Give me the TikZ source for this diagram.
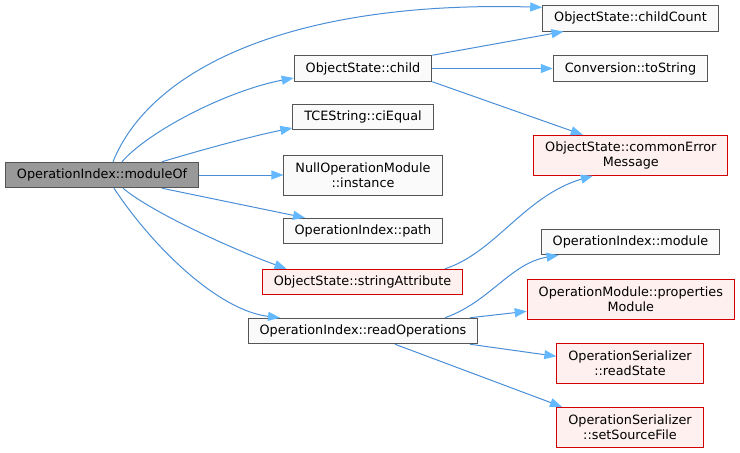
\documentclass[tikz,border=0pt]{standalone}
\usepackage{fontspec}
\setmainfont{DejaVu Sans}
\usetikzlibrary{arrows.meta,positioning}

\definecolor{edgeblue}{HTML}{4A8FD6}
\definecolor{tipblue}{HTML}{63B8FF}
\definecolor{boxgray}{HTML}{555555}
\definecolor{rootfill}{HTML}{999999}
\definecolor{fnfill}{HTML}{F9FAF9}
\definecolor{errred}{HTML}{D40000}
\definecolor{errfill}{HTML}{FFF0F0}

\begin{document}
\begin{tikzpicture}[x=1pt,y=-1pt,
    fnbox/.style={draw=boxgray,fill=fnfill,line width=1pt,rectangle,align=center,
      inner xsep=11.5pt,inner ysep=2pt,minimum height=25.5pt,
      font=\fontsize{12.8}{15}\selectfont},
    rootbox/.style={fnbox,fill=rootfill},
    errbox/.style={fnbox,draw=errred,fill=errfill},
    twoline/.style={minimum height=40pt},
    call/.style={draw=edgeblue,line width=1pt,-{Triangle[length=12pt,width=9pt,fill=tipblue,color=tipblue]}}]

    \useasboundingbox (0,0) rectangle (740,453);

    % caller
    \node (mod) at (102,175) [rootbox] {OperationIndex::moduleOf};
    % first column
    \node (child) at (363,68.5) [fnbox] {ObjectState::child};
    \node (cieq) at (363,117) [fnbox] {TCEString::ciEqual};
    \node (inst) at (363,175.5) [fnbox,twoline] {NullOperationModule\\::instance};
    \node (path) at (363,231) [fnbox] {OperationIndex::path};
    \node (sattr) at (362.5,282) [errbox] {ObjectState::stringAttribute};
    \node (rops) at (363,331) [fnbox] {OperationIndex::readOperations};
    % second column
    \node (cc) at (630.5,18.3) [fnbox] {ObjectState::childCount};
    \node (tostr) at (630.5,68.5) [fnbox] {Conversion::toString};
    \node (cerr) at (630.8,155.3) [errbox,twoline] {ObjectState::commonError\\Message};
    \node (omod) at (630.5,242) [fnbox] {OperationIndex::module};
    \node (pmod) at (630.8,299.3) [errbox,twoline] {OperationModule::properties\\Module};
    \node (rstate) at (630,363.3) [errbox,twoline] {OperationSerializer\\::readState};
    \node (ssf) at (630,427.3) [errbox,twoline] {OperationSerializer\\::setSourceFile};

    % calls from moduleOf
    \draw[call] ([xshift=11pt]mod.north) .. controls +(37,-92) and +(-253,-7) .. ([yshift=11pt]cc.west);
    \draw[call] ([xshift=20pt]mod.north) .. controls +(28,-32) and +(-64,12) .. ([yshift=-9.5pt]child.west);
    \draw[call] ([xshift=60pt]mod.north) .. controls +(40,-12) and +(-40,8) .. ([yshift=-11pt]cieq.west);
    \draw[call] (mod.east) -- (mod.east -| inst.west);
    \draw[call] ([xshift=60pt]mod.south) -- ([xshift=-58pt]path.north);
    \draw[call] ([xshift=21pt]mod.south) .. controls +(30,25) and +(-50,-18) .. ([xshift=-76pt]sattr.north);
    \draw[call] ([xshift=12pt]mod.south) .. controls +(41,62) and +(-60,-7) .. ([xshift=-83pt]rops.north);

    % calls from child
    \draw[call] (child.north east) -- ([xshift=-67pt]cc.south);
    \draw[call] (child.east) -- (tostr.west);
    \draw[call] (child.south east) -- ([xshift=-48pt]cerr.north);

    % calls from stringAttribute and readOperations
    \draw[call] ([xshift=82.5pt]sattr.north) .. controls +(50,-16) and +(-68,20) .. ([xshift=-38pt]cerr.south);
    \draw[call] ([xshift=82pt]rops.north) .. controls +(45,-16) and +(-48,8) .. ([xshift=-72pt]omod.south);
    \draw[call] ([xshift=107pt]rops.north) -- ([yshift=-12pt]pmod.west);
    \draw[call] ([xshift=107pt]rops.south) -- ([yshift=7pt]rstate.west);
    \draw[call] ([xshift=32pt]rops.south) -- ([xshift=-68pt]ssf.north);

\end{tikzpicture}
\end{document}
